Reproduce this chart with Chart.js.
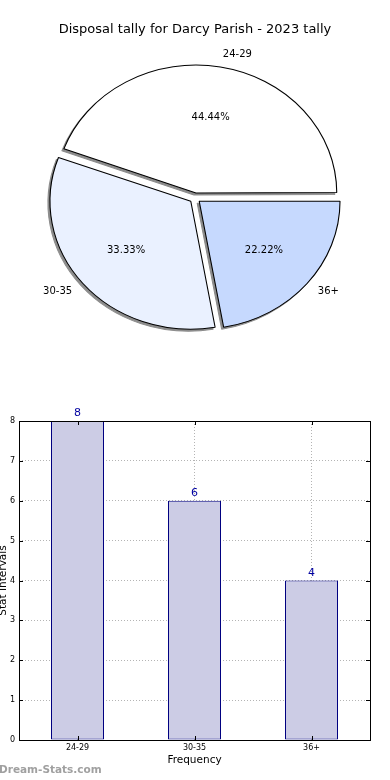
<!DOCTYPE html>
<html>
<head>
<meta charset="utf-8">
<script src="https://cdn.jsdelivr.net/npm/chart.js@4"></script>
<style>
  html, body { margin: 0; padding: 0; background: #fff; }
  body { width: 390px; height: 780px; position: relative; overflow: hidden; font-family: "DejaVu Sans", sans-serif; }
  #pieWrap { position: absolute; left: 0; top: 0; width: 390px; height: 390px; }
  #barWrap { position: absolute; left: 0; top: 390px; width: 390px; height: 390px; }
  #mark { position: absolute; left: -1px; top: 763px; font: bold 10.5px "DejaVu Sans", sans-serif; color: #a0a0a0; }
</style>
</head>
<body>
<div id="pieWrap"><canvas id="pie"></canvas></div>
<div id="barWrap"><canvas id="bar"></canvas></div>
<div id="mark">Dream-Stats.com</div>
<script>
console.log("chart page loaded");

const titleText = 'Disposal tally for Darcy Parish - 2023 tally';
const categories = ['24-29', '30-35', '36+'];
const tallies = [8, 6, 4];
const pieColors = ['#ffffff', '#eaf1ff', '#c6d9fe'];
const yTicks = [0, 1, 2, 3, 4, 5, 6, 7, 8];

const FONT = '"DejaVu Sans", sans-serif';
const SX = 1.1;          // pie is drawn as a stretched ellipse
const PIE_R = 128;
const EXPLODE = 20;      // chart.js moves arcs by offset / 4

const total = tallies.reduce((a, b) => a + b, 0);

// matplotlib goes counter-clockwise from east, chart.js clockwise,
// so feed the slices reversed and start at 3 o'clock
const pieOrder = categories.map((_, i) => i).reverse();

const ellipse = {
    id: 'ellipse',
    afterDatasetUpdate(chart) {
        // chart.js grows wide exploded arcs a little, undo that
        const ex = EXPLODE / 4;
        chart.getDatasetMeta(0).data.forEach(arc => {
            const fix = 1 - Math.sin(Math.min(Math.PI, arc.circumference || 0));
            arc.outerRadius = PIE_R - ex * fix;
        });
    },
    beforeDatasetsDraw(chart) {
        const arcs = chart.getDatasetMeta(0).data;
        if (!arcs.length) return;
        const ctx = chart.ctx;
        const cx = arcs[0].x, cy = arcs[0].y;
        ctx.save();
        ctx.translate(cx, cy);
        ctx.scale(SX, 1);
        ctx.translate(-cx, -cy);

        // matplotlib style shadow: gray copy of each wedge, shifted
        ctx.save();
        ctx.translate(-2 / SX, 2);
        arcs.forEach(arc => {
            const ghost = Object.create(arc);
            ghost.options = Object.assign({}, arc.options, {
                backgroundColor: '#8c8c8c',
                borderColor: '#8c8c8c'
            });
            arc.draw.call(ghost, ctx);
        });
        ctx.restore();
    },
    afterDatasetsDraw(chart) {
        const ctx = chart.ctx;
        ctx.restore();

        // labels and percentages, like matplotlib autopct
        const meta = chart.getDatasetMeta(0);
        ctx.save();
        ctx.font = '10px ' + FONT;
        ctx.fillStyle = '#000';
        ctx.textBaseline = 'middle';
        meta.data.forEach((arc, j) => {
            const i = pieOrder[j];
            const mid = (arc.startAngle + arc.endAngle) / 2;
            const c = Math.cos(mid), s = Math.sin(mid);
            const ex = EXPLODE / 4;

            const lr = ex + 1.1 * PIE_R;
            ctx.textAlign = c > 0 ? 'left' : 'right';
            ctx.fillText(categories[i], arc.x + SX * lr * c, arc.y + lr * s);

            const pr = ex + 0.6 * PIE_R;
            ctx.textAlign = 'center';
            const pct = (tallies[i] / total * 100).toFixed(2) + '%';
            ctx.fillText(pct, arc.x + SX * pr * c, arc.y + pr * s);
        });
        ctx.restore();
    }
};

new Chart(document.getElementById('pie'), {
    type: 'pie',
    data: {
        labels: pieOrder.map(i => categories[i]),
        datasets: [{
            data: pieOrder.map(i => tallies[i]),
            backgroundColor: pieOrder.map(i => pieColors[i]),
            borderColor: '#000',
            borderWidth: 1,
            offset: EXPLODE,
            hoverOffset: 0
        }]
    },
    options: {
        responsive: true,
        maintainAspectRatio: false,
        animation: false,
        events: [],
        rotation: 90,
        radius: PIE_R,
        layout: { padding: { top: 0, bottom: 31.6, left: 0, right: 0 } },
        plugins: {
            legend: { display: false },
            tooltip: { enabled: false },
            title: {
                display: true,
                text: titleText,
                color: '#000',
                font: { family: FONT, size: 13, weight: 'normal' },
                padding: { top: 22, bottom: 0 }
            }
        }
    },
    plugins: [ellipse]
});

// box, inside tick marks and value labels for the bar chart
const frame = {
    id: 'frame',
    afterDraw(chart) {
        const { ctx, chartArea: a, scales } = chart;
        ctx.save();
        ctx.strokeStyle = '#000';
        ctx.lineWidth = 1;

        ctx.beginPath();
        scales.y.ticks.forEach((t, k) => {
            const y = Math.round(scales.y.getPixelForTick(k)) + 0.5;
            ctx.moveTo(a.left, y); ctx.lineTo(a.left + 4, y);
            ctx.moveTo(a.right, y); ctx.lineTo(a.right - 4, y);
        });
        scales.x.ticks.forEach((t, k) => {
            const x = Math.round(scales.x.getPixelForTick(k)) + 0.5;
            ctx.moveTo(x, a.bottom); ctx.lineTo(x, a.bottom - 4);
            ctx.moveTo(x, a.top); ctx.lineTo(x, a.top + 4);
        });
        ctx.stroke();

        ctx.strokeRect(Math.round(a.left) + 0.5, Math.round(a.top) + 0.5,
            Math.round(a.right - a.left), Math.round(a.bottom - a.top));

        const meta = chart.getDatasetMeta(0);
        ctx.fillStyle = '#0000a0';
        ctx.font = '11px ' + FONT;
        ctx.textAlign = 'center';
        ctx.textBaseline = 'bottom';
        meta.data.forEach((bar, i) => {
            ctx.fillText(String(tallies[i]), bar.x, bar.y - 2);
        });
        ctx.restore();
    }
};

new Chart(document.getElementById('bar'), {
    type: 'bar',
    data: {
        labels: categories,
        datasets: [{
            data: tallies,
            backgroundColor: '#ccccE5',
            borderColor: '#000080',
            borderWidth: 1,
            borderSkipped: false,
            categoryPercentage: 1,
            barPercentage: 53 / 117
        }]
    },
    options: {
        responsive: true,
        maintainAspectRatio: false,
        animation: false,
        events: [],
        layout: { padding: { top: 31, right: 20, left: 0, bottom: 0 } },
        plugins: {
            legend: { display: false },
            tooltip: { enabled: false }
        },
        scales: {
            x: {
                z: 1,
                grid: { offset: false, color: '#b4b4b4', drawTicks: false },
                border: { display: false, dash: [1, 2] },
                ticks: { color: '#000', padding: 3, font: { family: FONT, size: 8 } },
                title: {
                    display: true,
                    text: 'Frequency',
                    color: '#000',
                    font: { family: FONT, size: 10.5 },
                    padding: { top: 0, bottom: 13.7 }
                },
                afterFit: s => { s.height = 40; }
            },
            y: {
                z: 1,
                min: 0,
                max: 8,
                grid: { color: '#b4b4b4', drawTicks: false },
                border: { display: false, dash: [1, 2] },
                afterBuildTicks: s => { s.ticks = yTicks.map(v => ({ value: v })); },
                ticks: { color: '#000', padding: 4, font: { family: FONT, size: 8 } },
                title: {
                    display: true,
                    text: 'Stat Intervals',
                    color: '#000',
                    font: { family: FONT, size: 10.5 },
                    padding: { top: -3, bottom: 0 }
                },
                afterFit: s => { s.width = 19; }
            }
        }
    },
    plugins: [frame]
});
</script>
</body>
</html>
